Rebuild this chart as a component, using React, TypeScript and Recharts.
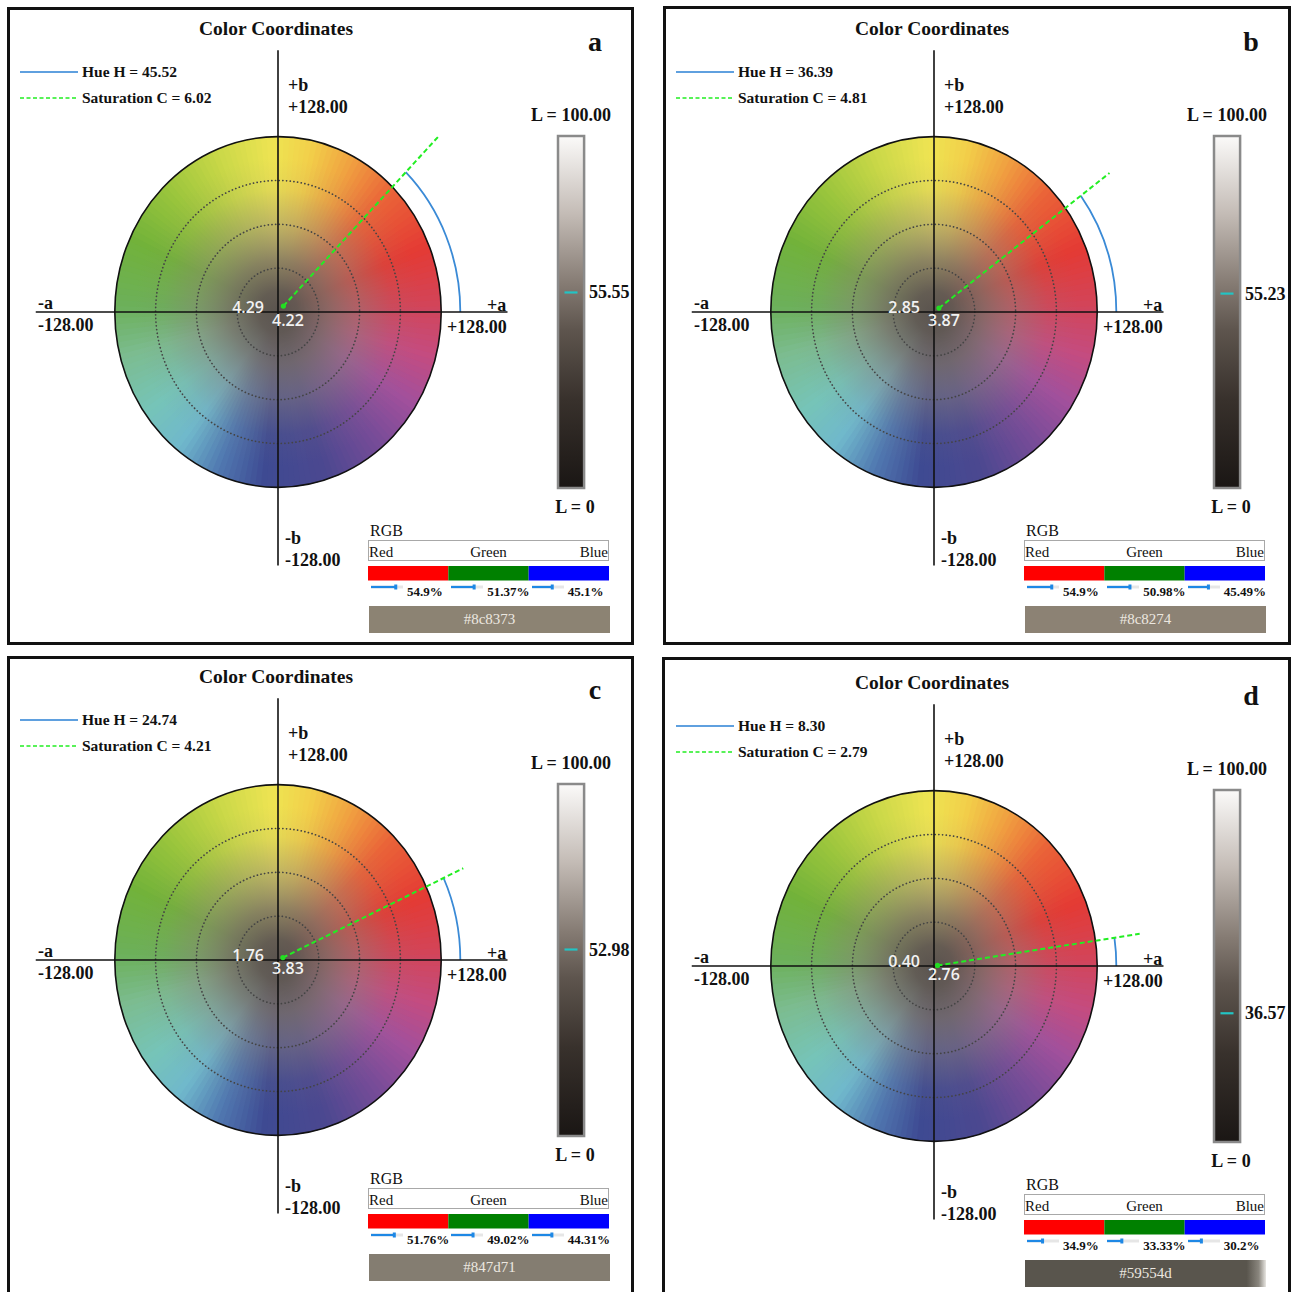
import React from 'react';
import {
  ScatterChart,
  Scatter,
  XAxis,
  YAxis,
  ReferenceArea,
  ReferenceLine,
  ReferenceDot,
  BarChart,
  Bar,
} from 'recharts';

// values (a, b, c, d)
const panelLetters = ['a', 'b', 'c', 'd'];
const hueAngles = [45.52, 36.39, 24.74, 8.3];
const chromaValues = [6.02, 4.81, 4.21, 2.79];
const aStar = [4.22, 3.87, 3.83, 2.76];
const bStar = [4.29, 2.85, 1.76, 0.4];
const lightness = [55.55, 55.23, 52.98, 36.57];
const redPct = [54.9, 54.9, 51.76, 34.9];
const greenPct = [51.37, 50.98, 49.02, 33.33];
const bluePct = [45.1, 45.49, 44.31, 30.2];
const hexCodes = ['#8c8373', '#8c8274', '#847d71', '#59554d'];
const hueLineReach = [180, 171, 160, 163];

const channels = ['Red', 'Green', 'Blue'];
const channelColors = ['#ff0000', '#008000', '#0000ff'];
const ringRadii = [32, 64, 96];
const axisLimit = 128;
const arcRadius = 143;

// hue wheel colour stops: [angle from +a counter-clockwise, colour]
const hueStops: [number, string][] = [
  [0, '#d0465e'],
  [22, '#e43a34'],
  [45, '#ea6438'],
  [62, '#f0a040'],
  [78, '#f2d04a'],
  [92, '#eee452'],
  [112, '#cad848'],
  [135, '#98c43c'],
  [155, '#72b23a'],
  [178, '#6cb05a'],
  [195, '#7cbc90'],
  [215, '#76c4b8'],
  [232, '#70b8cc'],
  [248, '#5078b0'],
  [265, '#3e4a92'],
  [288, '#4c4890'],
  [310, '#784c98'],
  [328, '#a2509c'],
  [345, '#c44c80'],
  [360, '#d0465e'],
];

const SERIF = "'Liberation Serif', 'Times New Roman', serif";
const OFFSET = [
  [0, 0],
  [656, 0],
  [0, 648],
  [656, 654],
];
const FRAME = [
  [7, 7, 627, 638],
  [663, 6, 628, 639],
  [7, 656, 627, 660],
  [662, 657, 629, 660],
];

function hexToRgb(h: string) {
  return [1, 3, 5].map((k) => parseInt(h.slice(k, k + 2), 16));
}

function hueColor(deg: number) {
  for (let k = 0; k < hueStops.length - 1; k++) {
    const [d0, c0] = hueStops[k];
    const [d1, c1] = hueStops[k + 1];
    if (deg >= d0 && deg <= d1) {
      const t = (deg - d0) / (d1 - d0);
      const a = hexToRgb(c0);
      const b = hexToRgb(c1);
      const m = a.map((v, j) => Math.round(v + (b[j] - v) * t));
      return `rgb(${m[0]},${m[1]},${m[2]})`;
    }
  }
  return hueStops[0][1];
}

function box(p: any) {
  const w = Math.abs(p.width);
  const h = Math.abs(p.height);
  const x0 = Math.min(p.x, p.x + p.width);
  const y0 = Math.min(p.y, p.y + p.height);
  return { cx: x0 + w / 2, cy: y0 + h / 2, rx: w / 2, ry: h / 2 };
}

const SLICES = 180;

function wheelShape(id: string) {
  return (p: any) => {
    const { cx, cy, rx, ry } = box(p);
    const step = 360 / SLICES;
    const pt = (deg: number) => {
      const r = (deg * Math.PI) / 180;
      return [cx + rx * Math.cos(r), cy - ry * Math.sin(r)];
    };
    const slices = Array.from({ length: SLICES }, (_, k) => {
      const [x0, y0] = pt(k * step);
      const [x1, y1] = pt((k + 1) * step + 1);
      const col = hueColor(k * step + step / 2);
      return (
        <path
          key={k}
          d={`M${cx},${cy} L${x0},${y0} A${rx},${ry} 0 0 0 ${x1},${y1} Z`}
          fill={col}
        />
      );
    });
    return (
      <g>
        <defs>
          <radialGradient id={id} cx="50%" cy="50%" r="50%">
            <stop offset="0" stopColor="#5a534e" stopOpacity={1} />
            <stop offset="0.12" stopColor="#615953" stopOpacity={0.97} />
            <stop offset="0.3" stopColor="#786e66" stopOpacity={0.8} />
            <stop offset="0.5" stopColor="#8a8078" stopOpacity={0.45} />
            <stop offset="0.7" stopColor="#8a8078" stopOpacity={0.1} />
            <stop offset="0.88" stopColor="#8a8078" stopOpacity={0} />
          </radialGradient>
        </defs>
        {slices}
        <ellipse cx={cx} cy={cy} rx={rx} ry={ry} fill={`url(#${id})`} />
        <ellipse cx={cx} cy={cy} rx={rx} ry={ry} fill="none" stroke="#111" strokeWidth={1.6} />
      </g>
    );
  };
}

const ringShape = (p: any) => {
  const { cx, cy, rx, ry } = box(p);
  return (
    <ellipse
      cx={cx}
      cy={cy}
      rx={rx}
      ry={ry}
      fill="none"
      stroke="#444"
      strokeWidth={1.7}
      strokeDasharray="0.1 3.6"
      strokeLinecap="round"
    />
  );
};

function arcShape(hue: number) {
  return (p: any) => {
    const { cx, cy, rx, ry } = box(p);
    const r = (hue * Math.PI) / 180;
    const ex = cx + rx * Math.cos(r);
    const ey = cy - ry * Math.sin(r);
    return (
      <path
        d={`M${cx + rx},${cy} A${rx},${ry} 0 0 0 ${ex},${ey}`}
        fill="none"
        stroke="#3a8ad6"
        strokeWidth={1.8}
      />
    );
  };
}

function T({
  x,
  y,
  size = 18,
  bold = false,
  weight,
  align = 'left',
  color = '#111',
  font = SERIF,
  children,
}: {
  x: number;
  y: number;
  size?: number;
  bold?: boolean;
  weight?: number;
  align?: 'left' | 'center' | 'right';
  color?: string;
  font?: string;
  children: React.ReactNode;
}) {
  const tx = align === 'left' ? '0' : align === 'center' ? '-50%' : '-100%';
  return (
    <div
      style={{
        position: 'absolute',
        left: x,
        top: y,
        transform: `translate(${tx},-50%)`,
        fontFamily: font,
        fontSize: size,
        fontWeight: weight ?? (bold ? 700 : 400),
        color,
        lineHeight: 1,
        whiteSpace: 'nowrap',
      }}
    >
      {children}
    </div>
  );
}

function Panel({ i }: { i: number }) {
  const [dx, dy] = OFFSET[i];
  const [fx, fy, fw, fh] = FRAME[i];
  const hue = hueAngles[i];
  const hr = (hue * Math.PI) / 180;
  const reach = hueLineReach[i];
  const L = lightness[i];
  const pcts = [redPct[i], greenPct[i], bluePct[i]];
  const X = (v: number) => v + dx;
  const Y = (v: number) => v + dy;
  const third = 241 / 3;

  const markerShape = (p: any) => (
    <g>
      <line x1={p.cx - 7} x2={p.cx + 6} y1={p.cy} y2={p.cy} stroke="#22c4c4" strokeWidth={2.2} />
      <text
        x={p.cx + 17.5}
        y={p.cy}
        dominantBaseline="central"
        fontFamily={SERIF}
        fontWeight={700}
        fontSize={18}
        fill="#111"
      >
        {L.toFixed(2)}
      </text>
    </g>
  );

  return (
    <>
      <div
        style={{
          position: 'absolute',
          left: fx,
          top: fy,
          width: fw,
          height: fh,
          border: '3px solid #111',
          boxSizing: 'border-box',
        }}
      />

      {/* wheel */}
      <div style={{ position: 'absolute', left: X(23), top: Y(38) }}>
        <ScatterChart width={510} height={548} margin={{ top: 0, right: 0, bottom: 0, left: 0 }}>
          <XAxis type="number" dataKey="x" domain={[-200, 200]} hide />
          <YAxis type="number" dataKey="y" domain={[-200, 200]} hide />
          <ReferenceArea
            x1={-axisLimit}
            x2={axisLimit}
            y1={-axisLimit}
            y2={axisLimit}
            shape={wheelShape(`wheel-${i}`)}
          />
          {ringRadii.map((r) => (
            <ReferenceArea key={r} x1={-r} x2={r} y1={-r} y2={r} shape={ringShape} />
          ))}
          <ReferenceLine
            segment={[
              { x: -190, y: 0 },
              { x: 180, y: 0 },
            ]}
            stroke="#111"
            strokeWidth={1.6}
          />
          <ReferenceLine
            segment={[
              { x: 0, y: 191 },
              { x: 0, y: -185 },
            ]}
            stroke="#111"
            strokeWidth={1.6}
          />
          <ReferenceArea
            x1={-arcRadius}
            x2={arcRadius}
            y1={-arcRadius}
            y2={arcRadius}
            shape={arcShape(hue)}
          />
          <ReferenceLine
            segment={[
              { x: aStar[i], y: bStar[i] },
              { x: reach * Math.cos(hr), y: reach * Math.sin(hr) },
            ]}
            stroke="#22ee22"
            strokeWidth={2}
            strokeDasharray="5 3"
          />
          <Scatter
            data={[{ x: aStar[i], y: bStar[i] }]}
            isAnimationActive={false}
            shape={(p: any) => <circle cx={p.cx} cy={p.cy} r={2.6} fill="#22dd22" />}
          />
        </ScatterChart>
      </div>

      <T x={X(276)} y={Y(29)} size={19.5} bold align="center">
        Color Coordinates
      </T>
      <T x={X(595)} y={Y(42)} size={28} bold align="center">
        {panelLetters[i]}
      </T>

      {/* legend */}
      <svg style={{ position: 'absolute', left: X(20), top: Y(66) }} width={60} height={36}>
        <line x1={0} x2={58} y1={6} y2={6} stroke="#2a80d4" strokeWidth={1.6} />
        <line x1={0} x2={58} y1={32} y2={32} stroke="#22ee22" strokeWidth={1.6} strokeDasharray="4 2.5" />
      </svg>
      <T x={X(82)} y={Y(72)} size={15.5} bold>
        Hue H = {hue.toFixed(2)}
      </T>
      <T x={X(82)} y={Y(98)} size={15.5} bold>
        Saturation C = {chromaValues[i].toFixed(2)}
      </T>

      {/* axis labels */}
      <T x={X(288)} y={Y(85)} bold>+b</T>
      <T x={X(288)} y={Y(107)} bold>+{axisLimit.toFixed(2)}</T>
      <T x={X(38)} y={Y(303)} bold>-a</T>
      <T x={X(38)} y={Y(325)} bold>-{axisLimit.toFixed(2)}</T>
      <T x={X(487)} y={Y(305)} bold>+a</T>
      <T x={X(447)} y={Y(327)} bold>+{axisLimit.toFixed(2)}</T>
      <T x={X(285)} y={Y(538)} bold>-b</T>
      <T x={X(285)} y={Y(560)} bold>-{axisLimit.toFixed(2)}</T>

      <T x={X(264)} y={Y(307)} size={16} weight={600} align="right" color="#f2f2f2" font="'Open Sans', sans-serif">
        {bStar[i].toFixed(2)}
      </T>
      <T x={X(272)} y={Y(320)} size={16} weight={600} color="#f2f2f2" font="'Open Sans', sans-serif">
        {aStar[i].toFixed(2)}
      </T>

      {/* lightness bar */}
      <T x={X(571)} y={Y(115)} bold align="center">
        L = 100.00
      </T>
      <T x={X(575)} y={Y(507)} bold align="center">
        L = 0
      </T>
      <div style={{ position: 'absolute', left: X(555), top: Y(134) }}>
        <BarChart
          width={92}
          height={356}
          data={[{ k: 'L', v: 100 }]}
          margin={{ top: 2, right: 61, bottom: 2, left: 2 }}
          barCategoryGap={0}
        >
          <defs>
            <linearGradient id={`lgrad-${i}`} x1="0" y1="0" x2="0" y2="1">
              <stop offset="0" stopColor="#fbfaf9" />
              <stop offset="0.22" stopColor="#c4bcb6" />
              <stop offset="0.42" stopColor="#857b73" />
              <stop offset="0.55" stopColor="#5e554e" />
              <stop offset="0.75" stopColor="#38312c" />
              <stop offset="1" stopColor="#1a1614" />
            </linearGradient>
          </defs>
          <XAxis dataKey="k" type="category" hide />
          <YAxis type="number" domain={[0, 100]} hide />
          <Bar
            dataKey="v"
            fill={`url(#lgrad-${i})`}
            stroke="#8a8a8a"
            strokeWidth={2.5}
            barSize={29}
            isAnimationActive={false}
          />
          <ReferenceDot x="L" y={L} shape={markerShape} />
        </BarChart>
      </div>

      {/* RGB block */}
      <T x={X(370)} y={Y(531)} size={16}>
        RGB
      </T>
      <div
        style={{
          position: 'absolute',
          left: X(368),
          top: Y(540),
          width: 241,
          height: 21,
          border: '1px solid #a8a8a8',
          boxSizing: 'border-box',
          fontFamily: SERIF,
          fontSize: 15,
          color: '#111',
        }}
      >
        <span style={{ position: 'absolute', left: 0, bottom: 0, lineHeight: 1 }}>{channels[0]}</span>
        <span style={{ position: 'absolute', left: 0, right: 0, bottom: 0, lineHeight: 1, textAlign: 'center' }}>
          {channels[1]}
        </span>
        <span style={{ position: 'absolute', right: 0, bottom: 0, lineHeight: 1 }}>{channels[2]}</span>
      </div>
      <div style={{ position: 'absolute', left: X(368), top: Y(565) }}>
        <BarChart
          layout="vertical"
          width={241}
          height={16}
          data={[{ k: 'rgb', Red: 1, Green: 1, Blue: 1 }]}
          margin={{ top: 0, right: 0, bottom: 0, left: 0 }}
          barCategoryGap={0}
        >
          <XAxis type="number" domain={[0, 3]} hide />
          <YAxis type="category" dataKey="k" hide />
          {channels.map((c, j) => (
            <Bar key={c} dataKey={c} stackId="rgb" fill={channelColors[j]} barSize={16} isAnimationActive={false} />
          ))}
        </BarChart>
      </div>
      {pcts.map((v, j) => (
        <React.Fragment key={j}>
          <svg
            style={{ position: 'absolute', left: X(368 + j * third + 3), top: Y(583) }}
            width={34}
            height={8}
          >
            <line x1={0} x2={32} y1={4} y2={4} stroke="#e6e6e6" strokeWidth={3} />
            <line x1={0} x2={(v / 100) * 46} y1={4} y2={4} stroke="#1e88e5" strokeWidth={2.2} />
            <rect x={(v / 100) * 46 - 2} y={1.5} width={3} height={5} fill="#1e88e5" />
          </svg>
          <T x={X(368 + j * third + 39)} y={Y(591)} size={13} bold>
            {v}%
          </T>
        </React.Fragment>
      ))}
      <div
        style={{
          position: 'absolute',
          left: X(369),
          top: Y(606),
          width: 241,
          height: 27,
          background:
            i === 3
              ? `linear-gradient(to right, ${hexCodes[i]} 92%, #8a867e 97%, #e8e6e2 100%)`
              : hexCodes[i],
          color: '#ece8e0',
          fontFamily: SERIF,
          fontSize: 15,
          lineHeight: '27px',
          textAlign: 'center',
        }}
      >
        {hexCodes[i]}
      </div>
    </>
  );
}

export default function App() {
  return (
    <div
      style={{
        position: 'absolute',
        left: 0,
        top: 0,
        width: 1294,
        height: 1292,
        overflow: 'hidden',
        background: '#fff',
      }}
    >
      {panelLetters.map((_, i) => (
        <Panel key={i} i={i} />
      ))}
    </div>
  );
}
